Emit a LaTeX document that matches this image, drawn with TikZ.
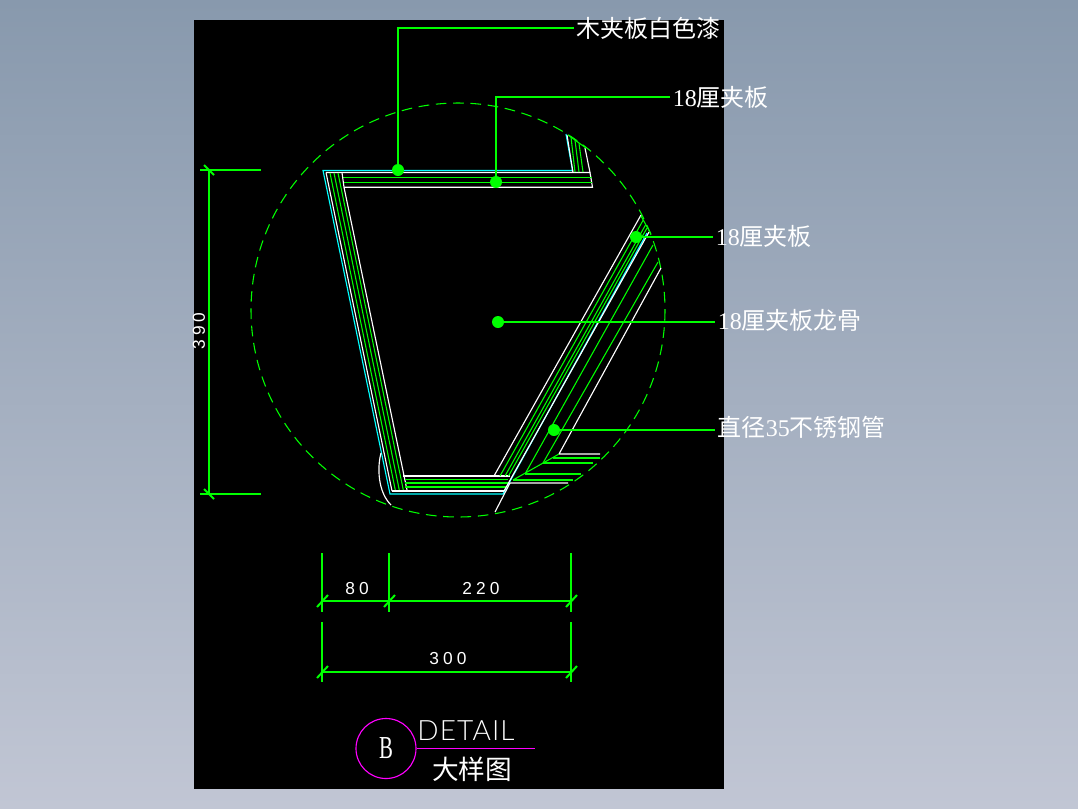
\documentclass[tikz,border=0pt]{standalone}
\usepackage{fontspec}
\setmainfont{Liberation Serif}
\newfontfamily\cjk{Noto Sans CJK SC}
\newfontfamily\dimfont[LetterSpace=24]{Liberation Sans}
\newfontfamily\titlefont[LetterSpace=4]{Lato Light}
\definecolor{bgtop}{RGB}{136,153,173}
\definecolor{bgbottom}{RGB}{193,198,212}
\definecolor{cadgreen}{RGB}{0,255,0}
\definecolor{cadcyan}{RGB}{0,255,255}
\definecolor{cadpink}{RGB}{255,0,255}
\tikzset{
  boardline/.style = {draw=white, line width=.85pt},
  hatchline/.style = {draw=cadgreen, line width=.8pt},
  skinline/.style  = {draw=cadcyan, line width=.85pt},
  leader/.style    = {draw=cadgreen, line width=.8pt},
  leaderdot/.style = {circle, fill=cadgreen, inner sep=0pt, minimum size=9pt},
  calltext/.style  = {text=white, anchor=west, inner sep=2pt, font=\fontsize{18}{20}\selectfont},
  dimline/.style   = {draw=cadgreen, line width=.85pt},
  dimtick/.style   = {draw=cadgreen, line width=1.5pt},
  dimtext/.style   = {text=white, inner sep=0pt, font=\dimfont\fontsize{13}{14}\selectfont},
  titlering/.style = {draw=cadpink, line width=.85pt}
}
\begin{document}
\begin{tikzpicture}
  [
    x = .75pt,
    y = -.75pt
  ]
  \useasboundingbox (0,0) rectangle (1078,808);
  \shade [top color=bgtop, bottom color=bgbottom] (0,0) rectangle (1078,808);
  \fill [black] (194,20) rectangle (724,789);

  % detail circle
  \draw [hatchline, dash pattern=on 8pt off 5pt] (458,310) circle [radius=207];

  % top board
  \draw [skinline] (566,134) -- (572.5,170.5) -- (323,170.5) -- (390,494) -- (503,494) -- (647,233);
  \draw [boardline] (567,135) -- (573,172.5) (326,172.5) -- (590,172.5) -- (592.5,187.3) -- (344,187.3);
  \draw [boardline] (585,148) -- (590,172.5);
  \foreach \y in {177.7,182.7}
    \draw [hatchline] (343,\y) -- (591.5,\y);
  \foreach \a/\b in {571/575,575/579,579/583}
    \draw [hatchline] (\a,{137+(\a-571)*.8}) -- (\b,172);
  \draw [hatchline] (568,135) -- (586,148);

  % left board
  \draw [boardline] (326,172.5) -- (392,491) (342,172.5) -- (344,187.3) -- (407,490);
  \foreach \a/\b in {330/395.5,334/399.5,338/403.5}
    \draw [hatchline] (\a,173) -- (\b,491);

  % bottom board
  \draw [boardline] (403,476) -- (510,476) (392,491) -- (504,491);
  \foreach \y in {479.5,483,487}
    \draw [hatchline] (405,\y) -- (508,\y);

  % right board
  \draw [boardline] (494,476) -- (641,215) (504,491) -- (649,232);
  \foreach \a/\b/\c in {500/643/220.4,505/645.5/225,508.5/647/228}
    \draw [hatchline] (\a,476) -- (\b,\c);
  \draw [hatchline] (641,216) -- (651,234);

  % battens and break line
  \draw [boardline] (661,268) -- (559,454) -- (600,454) (510,483) -- (568,483);
  \draw [boardline] (510,483) -- (495,512);
  \draw [boardline] (381,453) .. controls (377,468) and (378,492) .. (391,505);
  \draw [hatchline] (525,474) -- (653,245) (543,463) -- (658,262);
  \draw [hatchline] (513,480) -- (559,454);
  \draw [hatchline] (553,458) -- (600,458) (543,463) -- (593,463) (525,474) -- (581,474) (513,480) -- (573,480);

  % leaders
  \node (dotPaint)  [leaderdot] at (398,170) {};
  \node (dotPly)    [leaderdot] at (496,182) {};
  \node (dotSide)   [leaderdot] at (636,237) {};
  \node (dotFrame)  [leaderdot] at (498,322) {};
  \node (dotTube)   [leaderdot] at (554,430) {};
  \node (txtPaint)  [calltext] at (574,28)  {\cjk 木夹板白色漆};
  \node (txtPly)    [calltext] at (670,97)  {18\cjk 厘夹板};
  \node (txtSide)   [calltext] at (713,236) {18\cjk 厘夹板};
  \node (txtFrame)  [calltext] at (715,320) {18\cjk 厘夹板龙骨};
  \node (txtTube)   [calltext] at (715,427) {\cjk 直径\rmfamily 35\cjk 不锈钢管};
  \draw [leader] (dotPaint.center) -- (dotPaint.center |- txtPaint.west) -- (txtPaint.west);
  \draw [leader] (dotPly.center) -- (dotPly.center |- txtPly.west) -- (txtPly.west);
  \draw [leader] (dotSide.center) -- (dotSide.center -| txtSide.west);
  \draw [leader] (dotFrame.center) -- (dotFrame.center -| txtFrame.west);
  \draw [leader] (dotTube.center) -- (dotTube.center -| txtTube.west);

  % vertical dimension
  \coordinate (dimTop) at (209,170);
  \coordinate (dimBot) at (209,494);
  \draw [dimline] (dimTop) -- (dimBot);
  \draw [dimline] (200,170) -- (261,170) (200,494) -- (261,494);
  \foreach \p in {dimTop,dimBot}
    \draw [dimtick] ([shift={(-5,-5)}]\p) -- ([shift={(5,5)}]\p);
  \node (txtHigh) [dimtext, rotate=90] at (199,331) {390};

  % horizontal dimensions
  \coordinate (dimA) at (322,601);
  \coordinate (dimB) at (389,601);
  \coordinate (dimC) at (571,601);
  \coordinate (dimD) at (322,672);
  \coordinate (dimE) at (571,672);
  \draw [dimline] (dimA) -- (dimB) -- (dimC);
  \draw [dimline] (dimD) -- (dimE);
  \foreach \p in {dimA,dimB,dimC}
    \draw [dimline] ([yshift=36pt]\p) -- ([yshift=-8pt]\p);
  \foreach \p in {dimD,dimE}
    \draw [dimline] ([yshift=37.5pt]\p) -- ([yshift=-7.5pt]\p);
  \foreach \p in {dimA,dimB,dimC,dimD,dimE}
    \draw [dimtick] ([shift={(-5,6)}]\p) -- ([shift={(6,-6)}]\p);
  \node (txtLeft)  [dimtext] at (357,589) {80};
  \node (txtRight) [dimtext] at (481,589) {220};
  \node (txtAll)   [dimtext] at (448,659) {300};

  % title
  \node (ring) [circle, titlering, text=white, minimum size=45pt, inner sep=0pt] at (386,748.5)
    {\fontsize{24}{24}\selectfont\scalebox{.65}[1]{B}};
  \coordinate (ruleEnd) at (535,748.5);
  \draw [titlering] (ring.east) -- (ruleEnd);
  \node (txtDetail) [text=white, inner sep=0pt] at (466,731)
    {\titlefont\fontsize{21}{22}\selectfont DETAIL};
  \node (txtTitle)  [text=white, inner sep=0pt] at (472,769)
    {\cjk\fontsize{20}{22}\selectfont 大样图};
\end{tikzpicture}
\end{document}
